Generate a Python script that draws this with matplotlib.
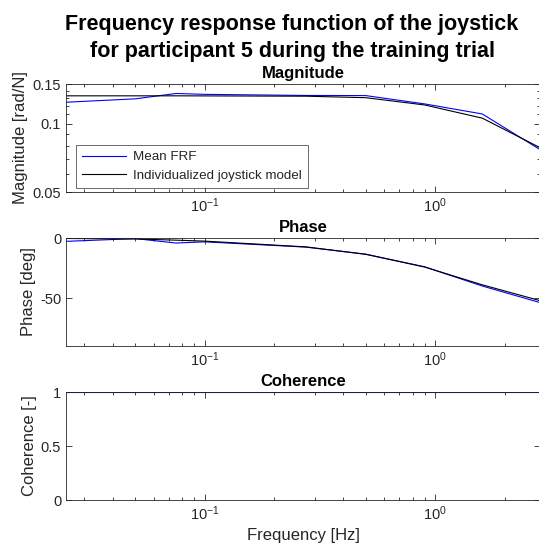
import numpy as np
import matplotlib
matplotlib.use('Agg')
import matplotlib.pyplot as plt
from matplotlib.ticker import FixedLocator, NullFormatter, LogLocator

plt.rcParams['font.family'] = ['Liberation Sans', 'DejaVu Sans']
plt.rcParams['axes.unicode_minus'] = False

# Frequencies of the FRF points [Hz]
freq = [0.025, 0.05, 0.075, 0.1, 0.275, 0.5, 0.9, 1.6, 2.85]

# Magnitude [rad/N]
mag_frf = [0.1246, 0.1290, 0.1362, 0.1350, 0.1335, 0.1333, 0.1225, 0.1106, 0.0770]
mag_model = [0.1330, 0.1330, 0.1330, 0.1329, 0.1325, 0.1305, 0.1212, 0.1060, 0.0785]

# Phase [deg]
phase_frf = [-2.8, -0.5, -4.2, -3.2, -7.6, -13.5, -24.0, -40.0, -53.8]
phase_model = [-0.4, -0.8, -1.8, -2.6, -7.4, -13.6, -24.2, -39.0, -52.2]

# Coherence [-]
coh = [0.999, 0.999, 0.999, 0.999, 0.999, 0.999, 0.999, 0.999, 0.999]

txt_col = '#262626'
W, H = 539, 555
fig = plt.figure(figsize=(W / 100, H / 100), dpi=100)

def make_ax(top_px, bottom_px):
    left, right = 66, 540
    return fig.add_axes([left / W, (H - bottom_px) / H, (right - left) / W, (bottom_px - top_px) / H])

def style(ax):
    ax.set_xscale('log')
    ax.set_xlim(freq[0], freq[-1])
    ax.tick_params(which='both', direction='in', top=True, right=True, colors=txt_col,
                   labelsize=10.5, width=0.6)
    ax.tick_params(which='major', length=4)
    ax.tick_params(which='minor', length=2.5)
    ax.xaxis.set_major_locator(FixedLocator([0.1, 1.0]))
    ax.xaxis.set_minor_locator(LogLocator(base=10, subs=np.arange(2, 10)))
    ax.xaxis.set_minor_formatter(NullFormatter())
    for s in ax.spines.values():
        s.set_color(txt_col)
        s.set_linewidth(0.6)

ax1 = make_ax(84, 192)
ax2 = make_ax(238, 346)
ax3 = make_ax(392, 500)

# Magnitude
ax1.plot(freq, mag_frf, color='#0000ff', lw=0.8, label='Mean FRF')
ax1.plot(freq, mag_model, color='black', lw=0.8, label='Individualized joystick model')
style(ax1)
ax1.set_yscale('log')
ax1.set_ylim(0.05, 0.15)
ax1.yaxis.set_major_locator(FixedLocator([0.05, 0.1, 0.15]))
ax1.yaxis.set_major_formatter(plt.FuncFormatter(lambda v, p: f'{v:g}'))
ax1.yaxis.set_minor_locator(FixedLocator([0.06, 0.07, 0.08, 0.09, 0.11, 0.12, 0.13, 0.14]))
ax1.yaxis.set_minor_formatter(NullFormatter())
ax1.set_ylabel('Magnitude [rad/N]', fontsize=12, color=txt_col, labelpad=3)
ax1.set_title('Magnitude', fontsize=12, fontweight='bold', pad=4)
leg = ax1.legend(loc='lower left', bbox_to_anchor=(0.022, 0.04), fontsize=9.6, frameon=True,
                 fancybox=False, edgecolor=txt_col, borderpad=0.45, labelspacing=0.45,
                 handlelength=3.3, handletextpad=0.5, borderaxespad=0)
leg.get_frame().set_linewidth(0.6)
for t in leg.get_texts():
    t.set_color(txt_col)

# Phase
ax2.plot(freq, phase_frf, color='#0000ff', lw=0.8)
ax2.plot(freq, phase_model, color='black', lw=0.8)
style(ax2)
ax2.set_ylim(-90, 0)
ax2.set_yticks([-50, 0])
ax2.set_ylabel('Phase [deg]', fontsize=12, color=txt_col, labelpad=3)
ax2.set_title('Phase', fontsize=12, fontweight='bold', pad=4)

# Coherence
ax3.plot(freq, coh, color='#0000ff', lw=0.8)
style(ax3)
ax3.set_ylim(0, 1)
ax3.set_yticks([0, 0.5, 1])
ax3.yaxis.set_major_formatter(plt.FuncFormatter(lambda v, p: f'{v:g}'))
ax3.set_ylabel('Coherence [-]', fontsize=12, color=txt_col, labelpad=3)
ax3.set_xlabel('Frequency [Hz]', fontsize=12, color=txt_col, labelpad=3)
ax3.set_title('Coherence', fontsize=12, fontweight='bold', pad=4)

fig.text(292 / W, 1 - 38 / H, 'Frequency response function of the joystick\nfor participant 5 during the training trial',
         ha='center', va='center', fontsize=15.5, fontweight='bold', linespacing=1.4)

fig.savefig('out.png', dpi=100)
